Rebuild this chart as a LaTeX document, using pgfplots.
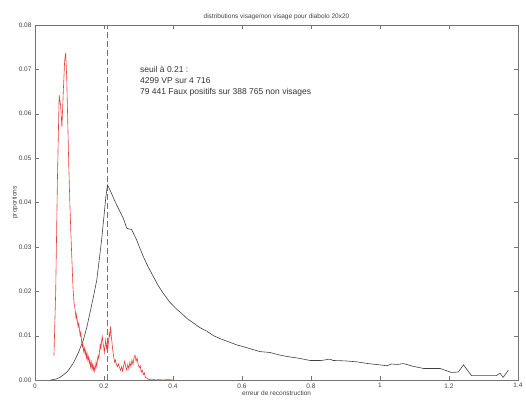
\documentclass[border=0pt]{standalone}
\usepackage{pgfplots}
\pgfplotsset{compat=1.18}
\usepackage{fontspec}
\setmainfont{Liberation Sans}
\definecolor{axgray}{gray}{0.45}
\definecolor{curvegray}{gray}{0.25}
\definecolor{redc}{RGB}{235,60,60}
\begin{document}
\begin{tikzpicture}
\begin{axis}[
  scale only axis,
  width=483pt, height=355pt,
  xmin=0, xmax=1.4, ymin=0, ymax=0.08,
  xtick={0,0.2,...,1.4},
  ytick={0,0.01,...,0.08},
  tick align=inside,
  major tick length=4pt,
  axis line style={axgray},
  tick style={axgray},
  every tick label/.append style={font=\fontsize{6.5}{7}\selectfont, text=black!75},
  /pgf/number format/assume math mode=true,
  yticklabel style={/pgf/number format/.cd, fixed, fixed zerofill, precision=2},
  scaled y ticks=false,
  xticklabel style={/pgf/number format/.cd, fixed},
  title={distributions visage/non visage pour diabolo 20x20},
  title style={font=\fontsize{6.5}{7}\selectfont, text=black!75, yshift=-4pt},
  xlabel={erreur de reconstruction},
  ylabel={proportions},
  label style={font=\fontsize{6.5}{7}\selectfont, text=black!75},
  xlabel style={yshift=4pt},
  ylabel style={yshift=-6pt},
  clip=false,
]
% seuil
\addplot[axgray, line width=0.9pt, dash pattern=on 6pt off 3pt] coordinates {(0.21,0) (0.21,0.08)};
% non visages
\addplot[curvegray, line width=0.6pt] coordinates {
(0.045,0) (0.06,0.0002) (0.07,0.0005) (0.082,0.0011) (0.095,0.002) (0.111,0.0038)
(0.125,0.006) (0.14,0.009) (0.15,0.0118) (0.159,0.015) (0.17,0.019) (0.179,0.0225)
(0.186,0.027) (0.193,0.0315) (0.2,0.037) (0.205,0.041) (0.21,0.0439) (0.215,0.0432)
(0.222,0.0420) (0.232,0.0402) (0.244,0.0383) (0.256,0.0364) (0.266,0.0342) (0.274,0.0340)
(0.28,0.0339) (0.287,0.0328) (0.295,0.0315) (0.304,0.0297) (0.314,0.0278) (0.328,0.0255)
(0.343,0.0233) (0.357,0.0213) (0.372,0.0195) (0.39,0.0176) (0.41,0.0160) (0.425,0.0150)
(0.44,0.0139) (0.46,0.0128) (0.478,0.0118) (0.498,0.0110) (0.517,0.0100) (0.54,0.0092)
(0.565,0.0085) (0.585,0.0079) (0.604,0.0075) (0.63,0.0069) (0.652,0.0064) (0.681,0.0062)
(0.705,0.0057) (0.73,0.0053) (0.765,0.0049) (0.797,0.0044) (0.83,0.0044) (0.855,0.0047)
(0.864,0.0044) (0.9,0.0043) (0.932,0.0041) (0.965,0.0037) (1.0,0.0034) (1.02,0.0032)
(1.033,0.0036) (1.05,0.0035) (1.068,0.0037) (1.095,0.0031) (1.126,0.0026) (1.15,0.0026)
(1.174,0.0026) (1.207,0.0017) (1.227,0.0018) (1.242,0.0034) (1.265,0.0010) (1.3,0.0010)
(1.337,0.0010) (1.348,0.0015) (1.357,0.0006) (1.372,0.0022)
};
% visages
\addplot[redc, line width=0.6pt] coordinates {
(0.055,0.0055) (0.060,0.020) (0.065,0.045) (0.070,0.0642) (0.074,0.062) (0.078,0.057)
(0.082,0.065) (0.086,0.072) (0.089,0.0737) (0.092,0.068) (0.095,0.058) (0.098,0.048)
(0.101,0.040) (0.104,0.033) (0.107,0.027) (0.110,0.021) (0.113,0.0175) (0.116,0.0160)
(0.119,0.0138) (0.121,0.0148) (0.123,0.0130) (0.125,0.0120) (0.127,0.0128) (0.129,0.0112)
(0.131,0.0100) (0.133,0.0108) (0.135,0.0088) (0.137,0.0075) (0.139,0.0082) (0.141,0.0065)
(0.143,0.0072) (0.145,0.0058) (0.147,0.0066) (0.149,0.0050) (0.151,0.0060) (0.153,0.0045)
(0.155,0.0052) (0.157,0.0038) (0.159,0.0046) (0.161,0.0030) (0.163,0.0040) (0.165,0.0025)
(0.167,0.0035) (0.169,0.0022) (0.171,0.0032) (0.173,0.0020) (0.175,0.0028) (0.177,0.0040)
(0.179,0.0030) (0.181,0.0045) (0.183,0.0055) (0.185,0.0048) (0.187,0.0065) (0.189,0.0080)
(0.191,0.0070) (0.193,0.0088) (0.195,0.0098) (0.197,0.0085) (0.199,0.0075) (0.201,0.0062)
(0.203,0.0078) (0.205,0.0090) (0.207,0.0072) (0.209,0.0080) (0.211,0.0068) (0.213,0.0085)
(0.215,0.0105) (0.217,0.0098) (0.219,0.0120) (0.221,0.0100) (0.223,0.0085) (0.225,0.0070)
(0.227,0.0058) (0.229,0.0048) (0.231,0.0040) (0.233,0.0045) (0.236,0.0035) (0.239,0.0030)
(0.242,0.0036) (0.245,0.0028) (0.248,0.0022) (0.251,0.0030) (0.254,0.0020) (0.257,0.0032)
(0.260,0.0042) (0.263,0.0030) (0.266,0.0022) (0.269,0.0035) (0.272,0.0025) (0.275,0.0040)
(0.278,0.0030) (0.281,0.0045) (0.284,0.0035) (0.287,0.0050) (0.290,0.0056) (0.293,0.0042)
(0.296,0.0050) (0.299,0.0035) (0.302,0.0028) (0.305,0.0032) (0.308,0.0018) (0.311,0.0022)
(0.314,0.0012) (0.317,0.0016) (0.320,0.0006) (0.325,0.0004) (0.330,0.0001) (0.340,0.0002)
(0.350,0.0000) (0.360,0.0001) (0.370,0.0000) (0.385,0.0001) (0.400,0.0000)
};
\node[anchor=north west, inner sep=0pt, align=left, text=black!80,
  font=\fontsize{8.5}{10.7}\selectfont] at (axis cs:0.304,0.0707)
  {seuil à 0.21 :\\4299 VP sur 4 716\\79 441 Faux positifs sur 388 765 non visages};
\end{axis}
\path ([shift={(-35pt,-21pt)}]current axis.south west) rectangle ([shift={(8pt,25pt)}]current axis.north east);
\end{tikzpicture}
\end{document}
